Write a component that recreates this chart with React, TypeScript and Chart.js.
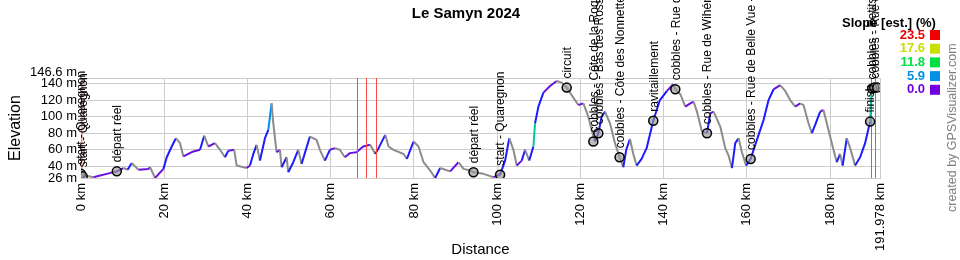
import React, { useEffect, useRef } from 'react';
import { Chart, registerables } from 'chart.js';

Chart.register(...registerables);

const FONT = '"Liberation Sans", Arial, sans-serif';

// Elevation profile (distance in km, elevation in m)
const distKm = [
  0, 1.0, 3.0, 4.6, 6.2, 8.6, 10.2, 11.2, 12.2, 13.0, 13.8, 16.2, 16.6, 17.8, 19.8,
  20.6, 21.8, 22.8, 23.8, 24.6, 27.0, 28.6, 29.6, 30.6, 32.2, 33.4, 34.6, 35.4, 36.8,
  37.4, 39.8, 40.6, 41.4, 42.2, 43.0, 44.2, 45.0, 45.8, 46.2, 47.0, 47.8, 48.2, 49.4,
  49.8, 51.0, 52.2, 53.0, 55.0, 56.6, 57.4, 58.6, 59.8, 61.0, 62.2, 63.4, 64.6, 66.2,
  67.8, 69.5, 70.7, 71.5, 73.1, 73.9, 75.1, 77.5, 78.3, 79.9, 81.1, 82.3, 83.9, 85.1,
  86.3, 88.7, 90.7, 91.9, 93.5, 94.3, 96.7, 99.1, 100.7, 101.9, 102.9, 103.9, 104.7,
  105.9, 106.7, 107.7, 108.7, 109.1, 109.9, 111.1, 112.7, 114.3, 115.5, 116.7, 118.3,
  119.5, 120.7, 121.9, 122.7, 123.5, 124.3, 125.1, 125.9, 127.1, 128.3, 129.4, 130.3,
  131.0, 131.9, 132.7, 133.5, 134.7, 135.9, 137.5, 139.1, 140.8, 142.3, 142.8, 144.0,
  145.2, 146.4, 147.2, 148.0, 149.2, 150.4, 151.2, 152.0, 153.6, 154.8, 155.6, 156.4,
  157.2, 158.0, 158.8, 159.8, 160.9, 162.4, 164.0, 165.2, 166.4, 168.0, 169.2, 170.4,
  171.6, 172.8, 173.6, 174.8, 175.6, 176.4, 177.6, 178.4, 179.6, 180.8, 181.6, 182.4,
  183.0, 184.0, 184.8, 186.0, 187.2, 188.4, 189.6, 190.0, 190.5, 191.2, 191.978,
];
const elevM = [
  31, 29, 27, 29, 31, 34, 38, 36, 44, 40, 36, 37, 39, 26, 37,
  51, 64, 74, 68, 52, 58, 60, 77, 64, 68, 60, 51, 59, 60,
  41, 38, 41, 55, 66, 47, 74, 84, 116, 92, 57, 60, 39, 51,
  33, 45, 60, 43, 76, 72, 60, 47, 60, 62, 60, 51, 56, 57,
  64, 66, 55, 62, 78, 64, 60, 55, 49, 70, 64, 45, 35, 26,
  38, 34, 45, 37, 35, 33, 31, 27, 30, 47, 74, 60, 41,
  47, 60, 47, 64, 92, 112, 129, 137, 143, 141, 135, 123,
  114, 116, 100, 84, 70, 80, 100, 106, 92, 68, 51, 39,
  60, 73, 55, 41, 49, 62, 95, 120, 131, 139, 133, 127,
  112, 116, 118, 106, 82, 80, 104, 106, 88, 62, 53, 38,
  68, 74, 57, 41, 49, 72, 96, 120, 133, 138, 131, 120,
  112, 116, 114, 92, 80, 90, 106, 108, 84, 60, 45, 55,
  41, 74, 62, 41, 51, 68, 94, 132, 134, 135, 134,
];

// Waypoints
const wpKm = [0, 0.4, 8.6, 94.3, 100.7, 116.7, 123.1, 124.3, 129.4, 137.5, 142.8, 150.4, 160.9, 189.6, 190.1, 190.6, 191.3];
const wpElev = [31, 28, 34, 33, 30, 135, 70, 80, 51, 95, 133, 80, 49, 94, 134, 135, 135];
const wpLabel = [
  'start - Quaregnon',
  'start - Quaregnon',
  'départ réel',
  'départ réel',
  'start - Quaregnon',
  'circuit',
  'cobbles - Côte de la Roquette',
  'cobbles - Bas des Rossignols',
  'cobbles - Côte des Nonnettes',
  'ravitaillement',
  'cobbles - Rue de Bavay',
  'cobbles - Rue de Wihéries',
  'cobbles - Rue de Belle Vue - Wihéries',
  'finish',
  'cobbles - Petits Prés',
  'cobbles - Rue de Belle Vue - Dour',
  '',
];

const redLineKm = [66.2, 68.4, 70.9, 189.8, 190.8];
const startLineKm = [0];

const xTicks = [0, 20, 40, 60, 80, 100, 120, 140, 160, 180, 191.978];
const yTicks = [26, 40, 60, 80, 100, 120, 140, 146.6];

const legendValues = ['23.5', '17.6', '11.8', '5.9', '0.0'];
const legendColors = ['#ee0000', '#c8e000', '#00e040', '#0090e8', '#7000e0'];

const slopeColor = (ctx: any) => {
  const x0 = ctx.p0.parsed.x;
  const y0 = ctx.p0.parsed.y;
  const x1 = ctx.p1.parsed.x;
  const y1 = ctx.p1.parsed.y;
  const s = ((y1 - y0) / ((x1 - x0) * 1000)) * 100;
  if (s <= 0) return '#8c8c8c';
  if (s < 0.6) return '#6a10e0';
  if (s < 4) return '#1c1cff';
  if (s < 7) return '#0090e8';
  if (s < 10) return '#00c8a0';
  return '#00e040';
};

const decorPlugin = {
  id: 'decor',
  afterDatasetDraw(chart: any, args: any) {
    if (args.index !== 1) return;
    const { ctx, chartArea } = chart;
    const xs = chart.scales.x;
    ctx.save();
    ctx.lineWidth = 2;
    ctx.strokeStyle = 'rgba(255,80,80,0.35)';
    startLineKm.forEach((k) => {
      const px = Math.round(xs.getPixelForValue(k)) + 1;
      ctx.beginPath();
      ctx.moveTo(px, chartArea.top);
      ctx.lineTo(px, chartArea.bottom);
      ctx.stroke();
    });
    ctx.lineWidth = 1;
    ctx.strokeStyle = '#ff4a4a';
    redLineKm.forEach((k) => {
      const px = Math.round(xs.getPixelForValue(k)) + 0.5;
      ctx.beginPath();
      ctx.moveTo(px, chartArea.top);
      ctx.lineTo(px, chartArea.bottom);
      ctx.stroke();
    });
    ctx.restore();
  },
  afterDraw(chart: any) {
    const { ctx } = chart;
    const xs = chart.scales.x;
    const ys = chart.scales.y;
    ctx.save();
    // waypoint labels
    ctx.font = `12px ${FONT}`;
    ctx.fillStyle = '#000';
    ctx.textAlign = 'left';
    ctx.textBaseline = 'middle';
    wpKm.forEach((k, i) => {
      const label = wpLabel[i];
      if (!label) return;
      const px = xs.getPixelForValue(k);
      const py = ys.getPixelForValue(wpElev[i]);
      ctx.save();
      ctx.translate(px + 1, py - 9);
      ctx.rotate(-Math.PI / 2);
      ctx.fillText(label, 0, 0);
      ctx.restore();
    });
    // title
    ctx.font = `bold 15px ${FONT}`;
    ctx.textAlign = 'center';
    ctx.fillStyle = '#000';
    ctx.fillText('Le Samyn 2024', 466, 14);
    // slope legend
    ctx.font = `bold 13px ${FONT}`;
    ctx.fillText('Slope [est.] (%)', 889, 23);
    ctx.textAlign = 'right';
    legendValues.forEach((v, i) => {
      const y = 35 + i * 13.7;
      ctx.fillStyle = legendColors[i];
      ctx.fillText(v, 925, y);
      ctx.fillRect(930, y - 5, 10, 10);
    });
    // watermark
    ctx.save();
    ctx.translate(953, 212);
    ctx.rotate(-Math.PI / 2);
    ctx.textAlign = 'left';
    ctx.font = `12.5px ${FONT}`;
    ctx.fillStyle = '#808080';
    ctx.fillText('created by GPSVisualizer.com', 0, 0);
    ctx.restore();
    ctx.restore();
  },
};

export default function App() {
  const canvasRef = useRef<HTMLCanvasElement | null>(null);

  useEffect(() => {
    document.body.style.margin = '0';
    const canvas = canvasRef.current;
    if (!canvas) return;
    const profile = distKm.map((d, i) => ({ x: d, y: elevM[i] }));
    const markers = wpKm.map((d, i) => ({ x: d, y: wpElev[i] }));

    const chart = new Chart(canvas, {
      type: 'line',
      data: {
        datasets: [
          {
            type: 'scatter',
            data: markers,
            order: 0,
            pointRadius: 4.5,
            pointBorderWidth: 1.5,
            pointBorderColor: '#000',
            pointBackgroundColor: 'rgba(150,150,150,0.65)',
            showLine: false,
          } as any,
          {
            type: 'line',
            data: profile,
            order: 1,
            borderWidth: 2,
            pointRadius: 0,
            tension: 0,
            borderJoinStyle: 'round',
            borderColor: '#8c8c8c',
            segment: { borderColor: slopeColor },
          } as any,
        ],
      },
      options: {
        responsive: false,
        animation: false,
        devicePixelRatio: 1,
        layout: { padding: { top: 78, right: 80, left: 0, bottom: 0 } },
        plugins: {
          legend: { display: false },
          title: { display: false },
          tooltip: { enabled: false },
        },
        scales: {
          x: {
            type: 'linear',
            min: 0,
            max: 191.978,
            afterBuildTicks: (s: any) => {
              s.ticks = xTicks.map((v) => ({ value: v }));
            },
            afterFit: (s: any) => {
              s.height = 82;
            },
            ticks: {
              autoSkip: false,
              maxRotation: 90,
              minRotation: 90,
              padding: 5,
              color: '#000',
              font: { family: FONT, size: 13 },
              callback: (v: any) => `${v} km`,
            },
            grid: { color: '#cccccc', drawTicks: false },
            border: { color: '#cccccc' },
            title: {
              display: true,
              text: 'Distance',
              color: '#000',
              font: { family: FONT, size: 15 },
              padding: { top: 0, bottom: 1 },
            },
          },
          y: {
            type: 'linear',
            min: 26,
            max: 146.6,
            afterBuildTicks: (s: any) => {
              s.ticks = yTicks.map((v) => ({ value: v }));
            },
            afterFit: (s: any) => {
              s.width = 81;
            },
            ticks: {
              autoSkip: false,
              padding: 4,
              color: '#000',
              font: { family: FONT, size: 13, lineHeight: 0.8 },
              callback: (v: any) => (v === 146.6 ? ['146.6 m', ''] : `${v} m`),
            },
            grid: { color: '#cccccc', drawTicks: false },
            border: { color: '#cccccc' },
            title: {
              display: true,
              text: 'Elevation',
              color: '#000',
              font: { family: FONT, size: 16 },
              padding: { top: 6, bottom: 0 },
            },
          },
        },
      } as any,
      plugins: [decorPlugin],
    });
    return () => chart.destroy();
  }, []);

  return (
    <div style={{ width: 960, height: 260 }}>
      <canvas ref={canvasRef} width={960} height={260} />
    </div>
  );
}
